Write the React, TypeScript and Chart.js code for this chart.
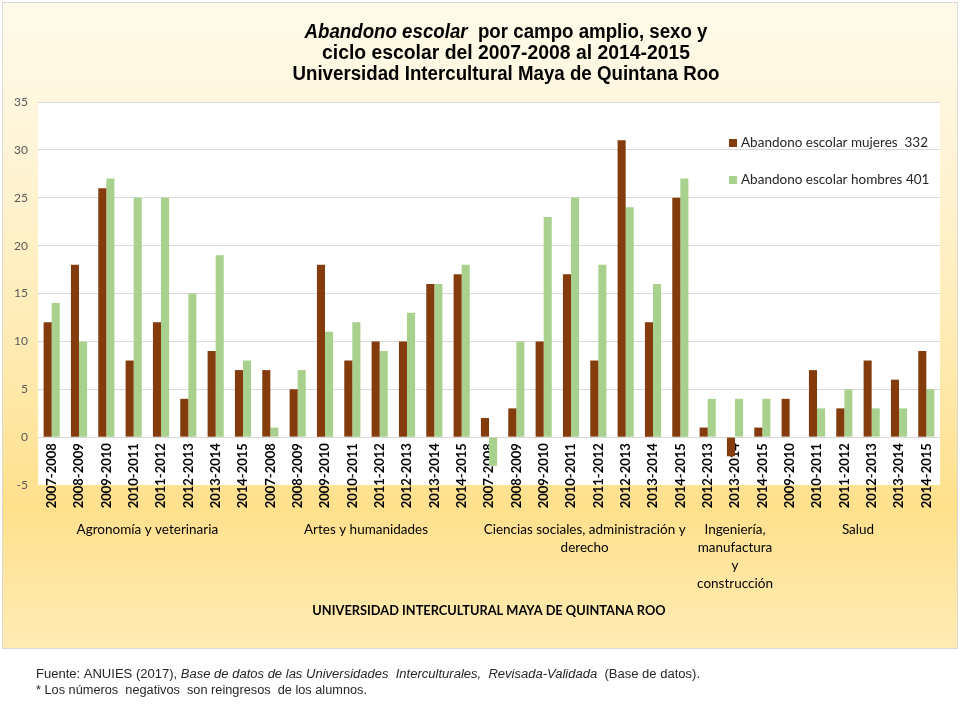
import React, { useEffect, useRef } from "react";
import { Chart, registerables } from "chart.js";

Chart.register(...registerables);

// ---------- DATA ----------
const PERIODS_ALL = ["2007-2008", "2008-2009", "2009-2010", "2010-2011", "2011-2012", "2012-2013", "2013-2014", "2014-2015"];
const PERIODS_ING = ["2012-2013", "2013-2014", "2014-2015"];
const PERIODS_SALUD = ["2009-2010", "2010-2011", "2011-2012", "2012-2013", "2013-2014", "2014-2015"];

const FIELD_NAMES = [
  ["Agronomía y veterinaria"],
  ["Artes y humanidades"],
  ["Ciencias sociales, administración y", "derecho"],
  ["Ingeniería,", "manufactura", "y", "construcción"],
  ["Salud"],
];
const FIELD_PERIODS = [PERIODS_ALL, PERIODS_ALL, PERIODS_ALL, PERIODS_ING, PERIODS_SALUD];

const CATEGORIES = FIELD_PERIODS.flat();

const MUJERES = [
  12, 18, 26, 8, 12, 4, 9, 7,
  7, 5, 18, 8, 10, 10, 16, 17,
  2, 3, 10, 17, 8, 31, 12, 25,
  1, -2, 1,
  4, 7, 3, 8, 6, 9,
];
const HOMBRES = [
  14, 10, 27, 25, 25, 15, 19, 8,
  1, 7, 11, 12, 9, 13, 16, 18,
  -3, 10, 23, 25, 18, 24, 16, 27,
  4, 4, 4,
  null, 3, 5, 3, 3, 5,
];

const SERIES_LABELS = ["Abandono escolar mujeres  332", "Abandono escolar hombres 401"];
const SERIES_COLORS = ["#843C0C", "#A9D18E"];

const Y_MIN = -5;
const Y_MAX = 35;
const Y_STEP = 5;

const TITLE_LINES = [
  [{ text: "Abandono escolar", italic: true }, { text: "  por campo amplio, sexo y", italic: false }],
  [{ text: "ciclo escolar del 2007-2008 al 2014-2015", italic: false }],
  [{ text: "Universidad Intercultural Maya de Quintana Roo", italic: false }],
];
const AXIS_TITLE = "UNIVERSIDAD INTERCULTURAL MAYA DE QUINTANA ROO";
const FOOTNOTES = [
  [
    { text: "Fuente: ANUIES (2017), ", italic: false },
    { text: "Base de datos de las Universidades  Interculturales,  Revisada-Validada", italic: true },
    { text: "  (Base de datos).", italic: false },
  ],
  [{ text: "* Los números  negativos  son reingresos  de los alumnos.", italic: false }],
];

// ---------- STYLE ----------
const SANS = "Lato, 'Open Sans', sans-serif";
const NARROW = "'Liberation Sans Narrow', 'Liberation Sans', Arial, sans-serif";

type Part = { text: string; italic: boolean };

function drawRich(
  ctx: CanvasRenderingContext2D,
  parts: Part[],
  x: number,
  y: number,
  align: "left" | "center",
  size: number,
  weight: string,
  family: string,
  color: string,
  targetWidth: number
) {
  ctx.save();
  ctx.fillStyle = color;
  ctx.textBaseline = "middle";
  ctx.textAlign = "left";
  const fonts = parts.map((p) => `${p.italic ? "italic " : ""}${weight} ${size}px ${family}`);
  const widths = parts.map((p, i) => {
    ctx.font = fonts[i];
    return ctx.measureText(p.text).width;
  });
  const total = widths.reduce((a, b) => a + b, 0);
  const sx = targetWidth / total;
  const start = align === "center" ? x - (total * sx) / 2 : x;
  ctx.translate(start, y);
  ctx.scale(sx, 1);
  let cx = 0;
  parts.forEach((p, i) => {
    ctx.font = fonts[i];
    ctx.fillText(p.text, cx, 0);
    cx += widths[i];
  });
  ctx.restore();
}

const decorPlugin = {
  id: "decor",
  beforeDraw(chart: any) {
    const { ctx, chartArea } = chart;
    const W = chart.width;
    const H = chart.height;
    ctx.save();
    ctx.fillStyle = "#ffffff";
    ctx.fillRect(0, 0, W, H);
    const g = ctx.createLinearGradient(0, 3, 0, 648);
    g.addColorStop(0, "#FFFAEA");
    g.addColorStop(0.2, "#FFF5DA");
    g.addColorStop(0.55, "#FFEAB0");
    g.addColorStop(0.78, "#FFE08C");
    g.addColorStop(1, "#FFEBB4");
    ctx.fillStyle = g;
    ctx.fillRect(3, 3, 954, 645);
    ctx.strokeStyle = "#D9D9D9";
    ctx.lineWidth = 1;
    ctx.strokeRect(2.5, 2.5, 955, 646);
    ctx.fillStyle = "#ffffff";
    ctx.fillRect(chartArea.left, chartArea.top, chartArea.right - chartArea.left, chartArea.bottom - chartArea.top);
    ctx.restore();
  },
  afterDraw(chart: any) {
    const { ctx, chartArea } = chart;
    const xs = chart.scales.x;

    // Title
    const titleWidths = [403, 368, 427];
    const titleY = [32.5, 53, 74];
    TITLE_LINES.forEach((line, i) => {
      drawRich(ctx, line, 506, titleY[i], "center", 20, "bold", NARROW, "#000000", titleWidths[i]);
    });

    // Legend (inside plot area, top right)
    ctx.save();
    ctx.textBaseline = "middle";
    ctx.textAlign = "left";
    ctx.font = `13.5px ${SANS}`;
    chart.data.datasets.forEach((ds: any, i: number) => {
      const y = chartArea.top + 41 + i * 37;
      const x = chartArea.right - 211;
      ctx.fillStyle = ds.backgroundColor;
      ctx.fillRect(x, y - 4, 8, 8);
      ctx.fillStyle = "#262626";
      ctx.fillText(ds.label, x + 12, y);
    });
    ctx.restore();

    // Group labels
    ctx.save();
    ctx.fillStyle = "#000000";
    ctx.textAlign = "center";
    ctx.textBaseline = "middle";
    ctx.font = `13.5px ${SANS}`;
    let idx = 0;
    FIELD_PERIODS.forEach((periods, gi) => {
      const first = xs.getPixelForValue(idx);
      const last = xs.getPixelForValue(idx + periods.length - 1);
      const cx = (first + last) / 2;
      FIELD_NAMES[gi].forEach((line, li) => {
        ctx.fillText(line, cx, chartArea.bottom + 45 + li * 18);
      });
      idx += periods.length;
    });
    // Axis title
    ctx.font = `bold 12.8px ${SANS}`;
    ctx.fillText(AXIS_TITLE, (chartArea.left + chartArea.right) / 2, chartArea.bottom + 126);
    ctx.restore();

    // Footnotes
    const footW = [664, 331];
    const footY = [675, 691];
    FOOTNOTES.forEach((line, i) => {
      drawRich(ctx, line, 36, footY[i], "left", 12.5, "normal", NARROW, "#262626", footW[i]);
    });
  },
};

export default function App() {
  const ref = useRef<HTMLCanvasElement | null>(null);

  useEffect(() => {
    if (!ref.current) return;
    const chart = new Chart(ref.current, {
      type: "bar",
      data: {
        labels: CATEGORIES,
        datasets: [
          { label: SERIES_LABELS[0], data: MUJERES, backgroundColor: SERIES_COLORS[0], borderWidth: 0 },
          { label: SERIES_LABELS[1], data: HOMBRES as any, backgroundColor: SERIES_COLORS[1], borderWidth: 0 },
        ],
      },
      options: {
        animation: false,
        responsive: false,
        maintainAspectRatio: false,
        layout: { padding: { top: 102, right: 20, bottom: 235, left: 0 } },
        datasets: { bar: { categoryPercentage: 0.59, barPercentage: 1.0 } },
        plugins: {
          legend: { display: false },
          title: { display: false },
          tooltip: { enabled: false },
        },
        scales: {
          x: {
            type: "category",
            position: { y: 0 } as any,
            z: 1,
            grid: { display: false, drawTicks: false },
            border: { display: false },
            ticks: {
              autoSkip: false,
              minRotation: 90,
              maxRotation: 90,
              padding: 6,
              color: "#000000",
              font: { family: SANS, size: 13, weight: "bold" },
            },
            afterFit(scale: any) {
              scale.paddingLeft = 0;
              scale.paddingRight = 0;
            },
          },
          y: {
            min: Y_MIN,
            max: Y_MAX,
            ticks: {
              stepSize: Y_STEP,
              padding: 10,
              color: "#595959",
              font: { family: SANS, size: 12 },
            },
            grid: {
              drawTicks: false,
              color: (c: any) => (c.tick && c.tick.value === Y_MIN ? "rgba(0,0,0,0)" : "#D9D9D9"),
              lineWidth: 1,
            },
            border: { display: false },
            afterFit(scale: any) {
              scale.width = 38;
            },
          },
        },
      },
      plugins: [decorPlugin],
    });
    return () => chart.destroy();
  }, []);

  return (
    <div style={{ position: "absolute", left: 0, top: 0, width: 960, height: 720, background: "#fff" }}>
      <canvas ref={ref} width={960} height={720} style={{ display: "block", width: 960, height: 720 }} />
    </div>
  );
}
